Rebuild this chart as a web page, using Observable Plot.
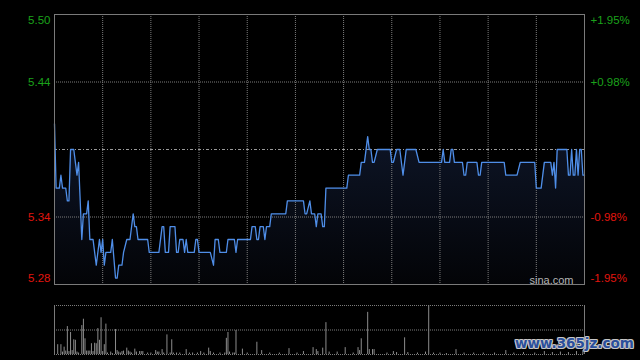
<!DOCTYPE html>
<html>
<head>
<meta charset="utf-8">
<script src="https://cdn.jsdelivr.net/npm/d3@7"></script>
<script src="https://cdn.jsdelivr.net/npm/@observablehq/plot@0.6"></script>
<style>
html, body { margin: 0; padding: 0; background: #000; }
#wrap { position: relative; width: 640px; height: 360px; background: #000; overflow: hidden; }
#wrap svg { position: absolute; left: 0; }
#wm { position: absolute; left: 515px; top: 335px; font: bold 13.5px "DejaVu Sans", sans-serif; color: #2b4f9c;
  text-shadow: 1px 0 0 #c8c8c8, -1px 0 0 #c8c8c8, 0 1px 0 #c8c8c8, 0 -1px 0 #c8c8c8, 1px 1px 0 #aaa, -1px -1px 0 #aaa, 1px -1px 0 #aaa, -1px 1px 0 #aaa; white-space: nowrap; }
</style>
</head>
<body>
<div id="wrap"><div id="wm">www.365jz.com</div></div>
<script>
// ---- data ----
const prevClose = 5.39;
const priceLow = 5.285;
const priceHigh = 5.495;
const tickLevels = [5.495, 5.4425, 5.3375, 5.285];
const leftTickLabels = ["5.50", "5.44", "5.34", "5.28"];
const rightTickLabels = ["+1.95%", "+0.98%", "-0.98%", "-1.95%"];
const gridMinutes = [30, 60, 90, 120, 150, 180, 210, 240, 270, 300];
const sessionMinutes = [0, 330];

const minutes = [0,1,3,4,5,7,8,9,10,12,13,14,15,17,18,20,21,22,24,26,28,29,30,31,32,35,36,38,39,40,42,43,45,47,49,50,51,52,58,59,65,67,68,69,71,72,75,76,77,78,80,81,82,83,87,88,89,90,97,99,100,102,103,107,108,112,113,114,122,123,125,126,127,128,130,131,132,134,135,144,145,155,156,157,159,160,162,163,164,166,167,168,169,182,183,190,191,193,195,196,197,198,199,201,209,210,211,213,215,217,219,225,227,241,242,243,246,247,248,249,254,255,256,257,263,264,265,266,280,281,288,290,299,300,303,305,309,310,311,312,313,319,320,321,322,323,324,325,326,327,328,329,330];
const prices = [5.41,5.36,5.36,5.37,5.36,5.36,5.35,5.35,5.39,5.39,5.38,5.37,5.38,5.32,5.34,5.34,5.35,5.32,5.32,5.30,5.32,5.31,5.32,5.30,5.31,5.31,5.32,5.29,5.29,5.30,5.30,5.31,5.32,5.32,5.34,5.33,5.33,5.32,5.32,5.31,5.31,5.33,5.33,5.31,5.31,5.33,5.33,5.31,5.31,5.32,5.32,5.31,5.32,5.31,5.31,5.32,5.32,5.31,5.31,5.30,5.32,5.32,5.31,5.31,5.32,5.32,5.31,5.32,5.32,5.33,5.33,5.32,5.32,5.33,5.33,5.32,5.33,5.33,5.34,5.34,5.35,5.35,5.34,5.34,5.35,5.34,5.34,5.33,5.34,5.34,5.33,5.33,5.36,5.36,5.37,5.37,5.38,5.38,5.40,5.39,5.39,5.38,5.38,5.39,5.39,5.38,5.38,5.39,5.39,5.37,5.39,5.39,5.38,5.38,5.39,5.38,5.38,5.39,5.39,5.38,5.38,5.37,5.37,5.38,5.38,5.37,5.37,5.38,5.38,5.37,5.37,5.38,5.38,5.36,5.36,5.38,5.38,5.37,5.38,5.36,5.39,5.39,5.37,5.37,5.39,5.37,5.37,5.39,5.37,5.39,5.39,5.37,5.37];

const volMinutes = [0,2,4,5,6,7,8,9,10,11,12,13,14,15,17,18,19,20,21,22,23,24,25,26,27,28,29,30,31,32,33,35,36,38,39,40,41,42,43,45,46,47,48,50,51,53,54,55,58,60,63,64,65,67,68,70,72,73,74,76,78,82,84,86,89,91,93,96,97,99,103,106,107,108,109,111,112,113,117,120,126,129,134,140,146,151,155,161,163,164,167,169,171,176,181,186,189,190,191,195,196,198,199,207,211,213,218,220,226,231,233,236,240,244,250,255,261,267,274,281,286,292,299,305,310,315,320,325,329];
const volValues = [43,20,20,5,15,7,57,6,45,8,30,29,5,3,59,72,32,7,7,7,22,6,23,22,53,29,75,6,20,62,3,5,2,51,8,5,3,6,7,13,7,5,3,11,5,6,6,6,3,3,8,5,5,10,3,40,3,30,3,3,3,10,3,3,3,6,3,13,6,3,3,3,33,45,5,3,3,49,11,3,25,8,3,3,12,3,6,14,10,6,13,65,5,5,14,3,14,8,32,86,10,10,10,3,6,4,34,4,3,5,100,3,3,2,10,3,3,3,3,8,3,4,3,6,4,5,4,6,8];

// ---- main price panel ----
const priceData = minutes.map((t, i) => ({ t, p: prices[i] }));
const tickData = tickLevels.map((v, i) => ({ v, left: leftTickLabels[i], right: rightTickLabels[i], up: v > prevClose }));
const font = '"Liberation Sans", Arial, sans-serif';
const green = "#1ba21b", red = "#e2150e";

function tickText(rows, side, dy) {
  return Plot.text(rows, {
    y: "v", text: side === "left" ? "left" : "right",
    frameAnchor: side, textAnchor: side === "left" ? "end" : "start",
    dx: side === "left" ? -4 : 6, dy,
    fill: d => d.up ? green : red, fontSize: 11.5
  });
}

const main = Plot.plot({
  width: 640, height: 290,
  marginLeft: 54, marginRight: 56, marginTop: 14, marginBottom: 6,
  x: { domain: [0, 330], axis: null },
  y: { domain: [priceLow, priceHigh], axis: null },
  style: { background: "transparent", fontFamily: font, overflow: "visible" },
  marks: [
    Plot.areaY(priceData, { x: "t", y1: priceLow, y2: "p", fill: "url(#fillGrad)" }),
    Plot.ruleX(gridMinutes, { stroke: "#7c7c7c", strokeDasharray: "1,1" }),
    Plot.ruleY([tickLevels[1], tickLevels[2]], { stroke: "#7c7c7c", strokeDasharray: "1,1" }),
    Plot.ruleY([prevClose], { stroke: "#9a9a9a", strokeDasharray: "3,2,1,2" }),
    Plot.lineY(priceData, { x: "t", y: "p", stroke: "#4f8ee8", strokeWidth: 1.3 }),
    Plot.frame({ stroke: "#7a7a7a" }),
    tickText([tickData[0]], "left", 6),
    tickText([tickData[1], tickData[2]], "left", 0),
    tickText([tickData[3]], "left", -6),
    tickText([tickData[0]], "right", 6),
    tickText([tickData[1], tickData[2]], "right", 0),
    tickText([tickData[3]], "right", -6),
    Plot.text(["sina.com"], { frameAnchor: "bottom-right", textAnchor: "end", lineAnchor: "bottom", dx: -11, dy: -1, fill: "#b4b4b4", fontSize: 11 })
  ]
});
const defs = d3.select(main).insert("defs", ":first-child");
const grad = defs.append("linearGradient").attr("id", "fillGrad")
  .attr("gradientUnits", "userSpaceOnUse").attr("x1", 0).attr("y1", 14).attr("x2", 0).attr("y2", 284);
grad.append("stop").attr("offset", 0).attr("stop-color", "rgb(22,34,64)");
grad.append("stop").attr("offset", 1).attr("stop-color", "rgb(3,4,7)");
main.style.top = "0px";

// ---- volume panel ----
const volData = volMinutes.map((t, i) => ({ t, v: volValues[i] }));
const vol = Plot.plot({
  width: 640, height: 70,
  marginLeft: 54, marginRight: 56, marginTop: 15, marginBottom: 6,
  x: { domain: [0, 330], axis: null },
  y: { domain: [0, 100], axis: null },
  style: { background: "transparent", fontFamily: font },
  marks: [
    Plot.ruleY([100, 50, 0], { stroke: "#7c7c7c", strokeDasharray: "1,1" }),
    Plot.ruleX(volData, { x: "t", y1: 0, y2: "v", stroke: "#8c8c8c" }),
    Plot.ruleX(sessionMinutes, { stroke: "#7a7a7a" })
  ]
});
vol.style.top = "290px";

const wrap = document.getElementById("wrap");
wrap.insertBefore(vol, wrap.firstChild);
wrap.insertBefore(main, wrap.firstChild);
</script>
</body>
</html>
